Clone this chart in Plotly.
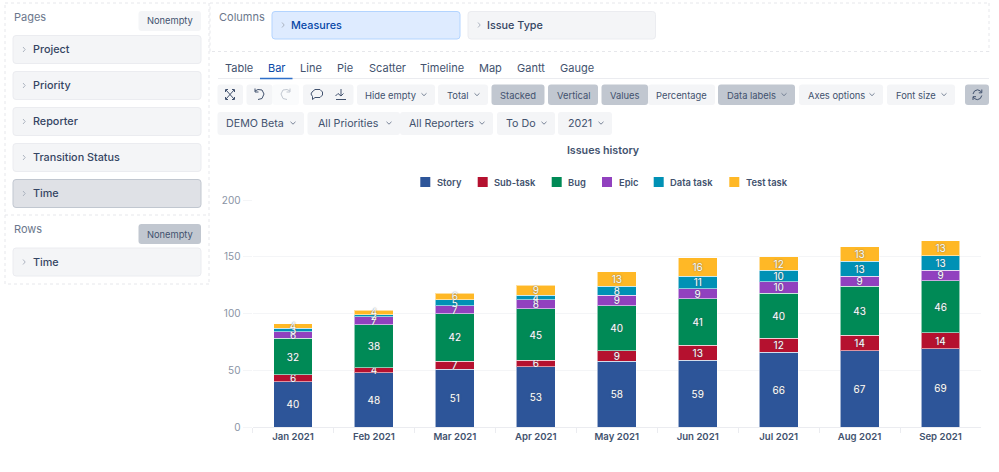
"""Issues history stacked bar chart inside the report builder screen."""

import plotly.graph_objects as go

WIDTH = 999
HEIGHT = 472

# chart data
MONTHS = ["Jan 2021", "Feb 2021", "Mar 2021", "Apr 2021", "May 2021",
          "Jun 2021", "Jul 2021", "Aug 2021", "Sep 2021"]
STORY = [40, 48, 51, 53, 58, 59, 66, 67, 69]
SUB_TASK = [6, 4, 7, 6, 9, 13, 12, 14, 14]
BUG = [32, 38, 42, 45, 40, 41, 40, 43, 46]
EPIC = [6, 7, 7, 8, 9, 9, 10, 9, 9]
DATA_TASK = [3, 2, 5, 4, 8, 11, 10, 13, 13]
TEST_TASK = [4, 4, 6, 9, 13, 16, 12, 13, 13]
Y_TICKS = [0, 50, 100, 150, 200]

SERIES = [
    ("Story", STORY, "#2d5599"),
    ("Sub-task", SUB_TASK, "#b5112f"),
    ("Bug", BUG, "#008a56"),
    ("Epic", EPIC, "#9141bf"),
    ("Data task", DATA_TASK, "#0091b5"),
    ("Test task", TEST_TASK, "#ffb826"),
]
LEGEND_X = [420.3, 477.7, 551.7, 602, 653.7, 729.3]

# screen around the chart, all in page pixels
PAGE_FIELDS = [("Project", 35.5, False), ("Priority", 71.5, False), ("Reporter", 107.5, False),
               ("Transition Status", 143.5, False), ("Time", 179.5, True), ("Time", 248, False)]
TABS = [("Table", 239), ("Bar", 276.5), ("Line", 311), ("Pie", 345), ("Scatter", 387),
        ("Timeline", 442), ("Map", 490), ("Gantt", 530.5), ("Gauge", 576.5)]
TOOL_BUTTONS = [("Hide empty", 357, 435, False, True), ("Total", 438, 488, False, True),
                ("Stacked", 491.5, 544.5, True, False), ("Vertical", 548, 598, True, False),
                ("Values", 601.5, 648, True, False), ("Percentage", 648, 715, False, False),
                ("Data labels", 718, 795, True, True), ("Axes options", 799, 883, False, True),
                ("Font size", 887, 955, False, True)]
FILTERS = [("DEMO Beta", 217.5, 304), ("All Priorities", 307.5, 400), ("All Reporters", 400, 493),
           ("To Do", 497, 555), ("2021", 558, 612)]

FONT = "Inter"
BTN = "#f4f5f7"
BTN_ON = "#c1c7d0"
TEXT = "#42526e"
DARK = "#344563"

shapes = []
notes = []


def fx(x):
    return x / WIDTH


def fy(y):
    return 1 - y / HEIGHT


def box(x0, y0, x1, y1, fill=BTN, line="rgba(0,0,0,0)", r=3):
    p = (f"M{fx(x0 + r)},{fy(y0)} L{fx(x1 - r)},{fy(y0)} Q{fx(x1)},{fy(y0)} {fx(x1)},{fy(y0 + r)} "
         f"L{fx(x1)},{fy(y1 - r)} Q{fx(x1)},{fy(y1)} {fx(x1 - r)},{fy(y1)} "
         f"L{fx(x0 + r)},{fy(y1)} Q{fx(x0)},{fy(y1)} {fx(x0)},{fy(y1 - r)} "
         f"L{fx(x0)},{fy(y0 + r)} Q{fx(x0)},{fy(y0)} {fx(x0 + r)},{fy(y0)} Z")
    shapes.append(dict(type="path", path=p, xref="paper", yref="paper", fillcolor=fill,
                       line=dict(color=line, width=1), layer="below"))


def stroke(points, color="#6b778c", width=1.0, dash="solid"):
    p = "M" + " L".join(f"{fx(x)},{fy(y)}" for x, y in points)
    shapes.append(dict(type="path", path=p, xref="paper", yref="paper",
                       line=dict(color=color, width=width, dash=dash), layer="below"))


def label(x, y, text, size=11, color=TEXT, anchor="left", weight=400):
    notes.append(dict(text=text, x=fx(x), y=fy(y), xref="paper", yref="paper", showarrow=False,
                      xanchor=anchor, yanchor="middle", borderpad=0,
                      font=dict(family=FONT, size=size, color=color, weight=weight)))


def chevron_down(x, y, color="#6b778c"):
    stroke([(x - 2.5, y - 1.2), (x, y + 1.2), (x + 2.5, y - 1.2)], color, 0.9)


def chevron_right(x, y):
    stroke([(x - 1, y - 2.5), (x + 1.2, y), (x - 1, y + 2.5)], "#a5adba", 0.9)


def dashed(x0, y0, x1, y1):
    for a, b in [((x0, y0), (x1, y0)), ((x1, y0), (x1, y1)), ((x1, y1), (x0, y1)), ((x0, y1), (x0, y0))]:
        stroke([a, b], "#dfe1e6", 0.8, "dot")


# left panel
dashed(5, 3, 209, 284)
stroke([(5, 215), (209, 215)], "#dfe1e6", 0.8, "dot")
label(13, 17, "Pages", 11, "#6b778c")
label(13, 229, "Rows", 11, "#6b778c")
box(138.5, 11, 201, 31)
label(169.7, 21, "Nonempty", 9.3, TEXT, "center")
box(138.5, 224, 201, 244, BTN_ON)
label(169.7, 234, "Nonempty", 9.3, TEXT, "center")
for name, top, active in PAGE_FIELDS:
    box(13, top, 201, top + 28, "#dfe1e6" if active else BTN, "#c1c7d0" if active else "#ebecf0")
    chevron_right(24, top + 14)
    label(31.5, top + 14, name, 10.8, DARK, weight=500)

# columns
dashed(210, 3, 989, 51.5)
label(218, 17, "Columns", 11, "#6b778c")
box(272, 11.5, 460, 39, "#deebff", "#b3d4ff")
chevron_right(283, 25)
label(290, 25.5, "Measures", 10.8, "#0747a6", weight=500)
box(468, 11.5, 655.5, 39, BTN, "#ebecf0")
chevron_right(479, 25)
label(486, 25.5, "Issue Type", 10.8, DARK, weight=500)

# tabs
stroke([(218, 78.5), (989, 78.5)], "#ebecf0", 1)
stroke([(260, 78.5), (292.5, 78.5)], "#2f6fc9", 1.6)
for name, cx in TABS:
    label(cx, 67.5, name, 11, "#0747a6" if name == "Bar" else TEXT, "center")

# first toolbar row
box(217.5, 84.5, 243, 105)
box(246.5, 84.5, 272.5, 105)
box(272.5, 84.5, 299, 105, "#fafbfc")
box(303, 84.5, 353.5, 105)
stroke([(226, 90), (234, 99)], TEXT)
stroke([(234, 90), (226, 99)], TEXT)
stroke([(225.5, 92), (225.5, 89.5), (228, 89.5)], TEXT)
stroke([(232, 89.5), (234.5, 89.5), (234.5, 92)], TEXT)
stroke([(225.5, 97), (225.5, 99.5), (228, 99.5)], TEXT)
stroke([(232, 99.5), (234.5, 99.5), (234.5, 97)], TEXT)
stroke([(255, 91), (258, 89.5), (262, 90), (264, 94), (262, 98.5), (258, 99.5)], TEXT)
stroke([(255, 88.5), (255, 92), (258.5, 92)], TEXT)
stroke([(290, 91), (287, 89.5), (283, 90), (281, 94), (283, 98.5), (287, 99.5)], "#c1c7d0")
stroke([(290, 88.5), (290, 92), (286.5, 92)], "#c1c7d0")
stroke([(312, 92), (315, 89.5), (320, 89.5), (322.5, 92), (322.5, 95), (320, 97.5), (315, 97.5),
        (312.5, 99.5), (312.5, 96.5), (311, 94), (312, 92)], TEXT)
stroke([(341, 89), (341, 96), (338, 93.5), (335.5, 96)], TEXT)
stroke([(341, 96), (343.5, 93.5)], TEXT)
stroke([(336, 99.5), (346, 99.5)], TEXT)
for name, x0, x1, on, menu in TOOL_BUTTONS:
    box(x0, 84.5, x1, 105, BTN_ON if on else BTN)
    if menu:
        label((x0 + x1) / 2 - 5, 95, name, 9.4, TEXT, "center")
        chevron_down(x1 - 11, 94.5)
    else:
        label((x0 + x1) / 2, 95, name, 9.4, TEXT, "center")
box(965, 84.5, 989, 105, BTN_ON)
stroke([(973, 94), (974.5, 91), (977.5, 89.8), (980.5, 91), (981.5, 92.5)], TEXT)
stroke([(981.8, 89.5), (981.8, 92.8), (978.8, 92.8)], TEXT)
stroke([(981.8, 95.5), (980.3, 98.5), (977.3, 99.7), (974.3, 98.5), (973.3, 97)], TEXT)
stroke([(973, 100), (973, 96.7), (976, 96.7)], TEXT)

# second toolbar row
for name, x0, x1 in FILTERS:
    box(x0, 112, x1, 135)
    label((x0 + x1) / 2 - 5.5, 123.5, name, 10.7, TEXT, "center")
    chevron_down(x1 - 11, 123)

# legend drawn by hand, plotly keeps too wide a gap after the swatch
for (name, _, color), lx in zip(SERIES, LEGEND_X):
    box(lx, 177, lx + 10, 187, color, r=0)
    label(lx + 15.5, 182, name, 9.4, TEXT, weight=600)

fig = go.Figure()
for name, values, color in SERIES:
    fig.add_bar(
        x=MONTHS, y=values, name=name, text=values,
        marker=dict(color=color, line=dict(color="rgba(255,255,255,0.55)", width=1)),
        textposition="inside", insidetextanchor="middle", textangle=0, constraintext="none",
        insidetextfont=dict(family=FONT, size=10, color="white", shadow="0 0 1.5px #55606f"),
    )

fig.update_layout(
    width=WIDTH, height=HEIGHT, autosize=False,
    margin=dict(l=0, r=0, t=0, b=0, autoexpand=False),
    paper_bgcolor="white", plot_bgcolor="white",
    barmode="stack", bargap=0.52, showlegend=False,
    font=dict(family=FONT, size=10, color=TEXT),
    title=dict(text="Issues history", x=fx(603), y=fy(150), xanchor="center", yanchor="middle",
               xref="paper", yref="paper",
               font=dict(family=FONT, size=10.7, color=TEXT, weight=600)),
    xaxis=dict(domain=[fx(252.5), fx(981)], type="category", categoryorder="array",
               categoryarray=MONTHS, showgrid=False, showline=True, linecolor="#ebecf0",
               ticks="outside", tickson="boundaries", ticklen=5, tickcolor="#ebecf0",
               tickfont=dict(family=FONT, size=9.6, color=TEXT, weight=600)),
    # long pale ticks carry the grid lines out towards the labels
    yaxis=dict(domain=[fy(427), fy(200)], range=[0, 200], tickvals=Y_TICKS,
               showgrid=True, gridcolor="#f4f5f7", zeroline=False,
               ticks="outside", ticklen=9, tickcolor="#f4f5f7",
               tickfont=dict(family=FONT, size=10, color="#8993a4")),
    shapes=shapes, annotations=notes,
)

fig.write_html("out.html", config=dict(displayModeBar=False),
               post_script="document.body.style.margin='0';")
